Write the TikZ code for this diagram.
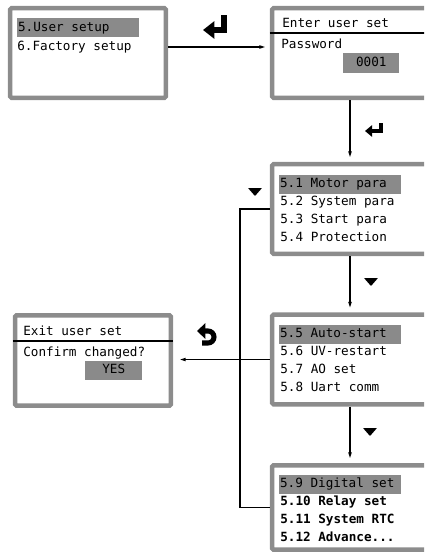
\documentclass[tikz,border=0pt]{standalone}
\usepackage{fontspec}
\usepackage{tikz}
\usetikzlibrary{positioning,arrows.meta,calc}
\newfontfamily\lcdfont{DejaVu Sans Mono}
\definecolor{framegray}{HTML}{8C8C8C}
\definecolor{selgray}{HTML}{8A8A8A}
\newcommand\selrow[2][l]{\makebox[3.0cm][#1]{#2}}

\begin{document}
\begin{tikzpicture}[x=0.025cm,y=-0.025cm,
  screen/.style={draw=framegray,line width=3.2pt,rounded corners=1pt,fill=white,
    minimum width=3.89cm,minimum height=2.24cm,inner sep=0pt},
  item/.style={anchor=west,inner sep=0pt,font=\lcdfont\fontsize{9}{11}\selectfont,
    text height=7pt,text depth=2pt},
  bolditem/.style={item,font=\lcdfont\bfseries\fontsize{9}{11}\selectfont},
  sel/.style={item,fill=selgray,inner xsep=0.6pt,minimum height=0.475cm},
  link/.style={line width=1.1pt,shorten >=1.5pt,-{Latex[length=6pt,width=2.6pt]}},
  wire/.style={line width=1.1pt},
  downkey/.pic={\fill[rounded corners=0.4pt] (-7,-4) -- (7,-4) -- (0,4) -- cycle;}]

\useasboundingbox (0,0) rectangle (424,553);
\clip (0,0) rectangle (424,553);

% screens
\node[screen] (menu) at (88,53) {};
\node[screen] (enter) at (350,53) {};
\node[screen] (para1) at (350,209) {};
\node[screen] (para2) at (350,359.5) {};
\node[screen,minimum height=2.11cm] (para3) at (350,507.5) {};
\node[screen,minimum height=2.26cm] (exitbox) at (93,360.5) {};

\node[sel] (usersetup) at (17,27.5) {\selrow{5.User setup}};
\node[item] (factory) at (17,47) {6.Factory setup};

\node[item] (entertitle) at (282,24) {Enter user set};
\node[item] (password) at (281,45) {Password};
\node[sel] (pwvalue) at (343,63) {\makebox[1.36cm]{0001}};
\draw[wire] (enter.west |- 0,33) -- (enter.east |- 0,33);

\node[sel] (p11) at (279,184) {\selrow{5.1 Motor para}};
\foreach \txt [count=\i] in {5.2 System para,5.3 Start para,5.4 Protection}
  \node[item] (p1\i) at (280,{184+18*\i}) {\txt};

\node[sel] (p21) at (279,334) {\selrow{5.5 Auto-start}};
\foreach \txt [count=\i] in {5.6 UV-restart,5.7 AO set,5.8 Uart comm}
  \node[item] (p2\i) at (280,{334+18*\i}) {\txt};

\node[sel] (p31) at (279,484) {\selrow{5.9 Digital set}};
\foreach \txt [count=\i] in {5.10 Relay set,5.11 System RTC}
  \node[bolditem] (p3\i) at (280,{484+18*\i}) {\txt};
\node[bolditem] (p33) at (280,538) {5.12 Advance...};

\node[item] (exittitle) at (23,332) {Exit user set};
\node[item] (confirm) at (23,353) {Confirm changed?};
\node[sel] (yes) at (85,370) {\makebox[1.38cm]{YES}};
\draw[wire] (exitbox.west |- 0,341) -- (exitbox.east |- 0,341);

% connectors
\draw[link] (menu.east |- factory) -- (enter.west |- factory);
\draw[link] (enter.south) -- (para1.north);
\draw[link] (para1.south) -- (para2.north);
\draw[link] (para2.south) -- (para3.north);
\draw[link,shorten >=3pt] (para2.west) -- (para2.west -| exitbox.east);
\coordinate (loopx) at (240,0);
\draw[wire] (para1.west) -- (para1.west -| loopx) |- (para3.west);

% keys
\draw[line width=4.2pt,-{Triangle[length=8pt,width=12pt]}] (224,15) -- (224,30) -- (203,30);
\draw[line width=2.6pt,-{Triangle[length=5pt,width=8pt]}] (381,123) -- (381,131) -- (365,131);
\draw[line width=3.6pt,{Triangle[length=6pt,width=11pt]}-] (197,331) -- (208,331)
  arc[start angle=-90,end angle=90,radius=6] -- (202,343);
\pic at (255,192) {downkey};
\pic at (371,282) {downkey};
\pic at (370,432) {downkey};

\end{tikzpicture}
\end{document}
